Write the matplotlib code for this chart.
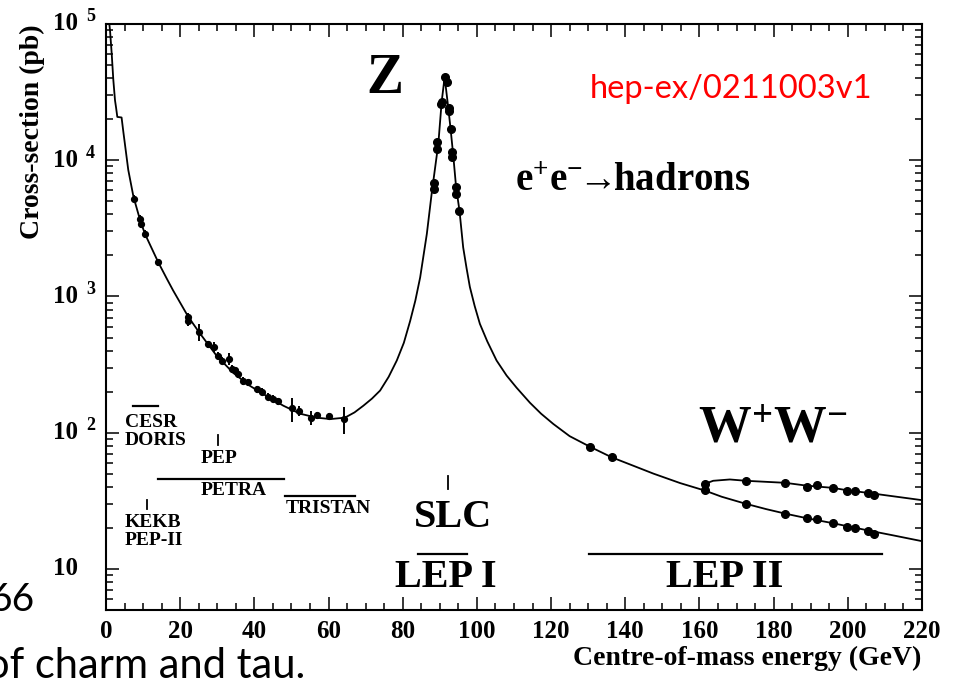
import numpy as np
import matplotlib
matplotlib.use("Agg")
import matplotlib.pyplot as plt
from matplotlib.ticker import MultipleLocator, LogLocator, NullFormatter
from matplotlib.transforms import blended_transform_factory, offset_copy

# ---- data (GeV, pb) ----
curve_E = [0.9, 1.08, 1.53, 1.97, 2.43, 2.7, 3.05, 4.2, 4.67, 6.0, 7.4, 9.2, 10.5,
           14.1, 16.4, 18.1, 22.2, 25.3, 29.8, 34.3, 38.8, 43.3, 47.8, 52.3, 56.8,
           60.5, 64.4, 67.0, 69.4, 71.7, 73.9, 76.2, 78.4, 80.3, 82.0, 83.4, 84.7,
           86.5, 87.8, 89.0, 89.6, 90.5, 91.3, 92.3, 92.9, 93.6, 94.4, 95.3, 96.3,
           97.2, 98.1, 99.4, 100.8, 102.8, 105.3, 108.0, 110.7, 114.3, 117.3,
           120.6, 125.0, 130.5, 136.3, 141.5, 147.6, 154.8, 161.5, 166.0, 172.3,
           178.0, 183.1, 188.9, 195.9, 199.9, 205.4, 212.0, 220.0]
curve_pb = [100000, 90000, 61000, 39000, 27500, 24500, 20800, 20600, 16200, 8500,
            5400, 3630, 2880, 1780, 1350, 1107, 708, 537, 368, 275, 221, 186, 158,
            138, 129, 126, 129, 141, 158, 178, 204, 257, 339, 457, 661, 933, 1380,
            2880, 5690, 10000, 13200, 26900, 40700, 24000, 17000, 11000, 6300,
            4270, 2290, 1620, 1175, 851, 630, 468, 339, 263, 214, 166, 138, 116,
            94.4, 78.9, 66.1, 58.2, 50.1, 42.7, 37.6, 33.9, 30.2, 27.5, 25.5, 23.6,
            21.7, 20.6, 19.2, 17.7, 16.0]

ww_E = [160.8, 161.5, 163.7, 168.2, 172.5, 183.1, 188.9, 195.9, 199.9, 205.4, 220.0]
ww_pb = [38.5, 42.2, 44.4, 45.4, 44.4, 42.9, 40.9, 39.4, 37.8, 36.2, 32.0]

low_E = [7.6, 9.2, 9.4, 10.5, 14.1, 22.2, 22.1, 25.2, 27.6, 29.1, 30.3, 31.2, 33.2,
         33.9, 34.8, 35.7, 37.0, 38.4, 40.6, 42.0, 43.8, 45.1, 46.5, 50.1, 52.1,
         55.2, 56.8, 60.2, 64.3]
low_pb = [5220, 3720, 3390, 2880, 1780, 708, 661, 550, 447, 427, 368, 339, 347,
          295, 288, 269, 240, 234, 209, 200, 184, 178, 170, 151, 145, 129, 135,
          133, 126]
low_err = [0.06, 0.06, 0.06, 0.06, 0.06, 0.06, 0.08, 0.15, 0.06, 0.08, 0.06, 0.06,
           0.10, 0.06, 0.06, 0.06, 0.06, 0.06, 0.06, 0.06, 0.06, 0.06, 0.06, 0.20,
           0.08, 0.12, 0.06, 0.05, 0.22]

lep_E = [88.5, 88.5, 89.3, 89.3, 90.45, 90.5, 91.4, 91.85, 92.5, 92.5, 92.9, 93.4,
         93.4, 94.4, 94.4, 95.3, 130.5, 136.3]
lep_pb = [6760, 6170, 13500, 12000, 25700, 26900, 40700, 37700, 24000, 22900,
          17000, 11500, 10500, 6310, 5620, 4240, 78.9, 66.1]

lep2_E = [161.5, 172.5, 183.1, 188.9, 191.8, 195.9, 199.9, 201.9, 205.4, 207.1]
lep2_had_pb = [37.9, 30.2, 25.5, 23.6, 23.1, 21.7, 20.4, 20.0, 19.0, 18.2]
lep2_ww_pb = [42.4, 44.4, 42.9, 40.3, 41.0, 39.4, 37.5, 37.5, 36.2, 34.8]

# horizontal bars: (label, E_min, E_max, pb)
ranges = [("CESR", 7.35, 13.9, 158), ("PETRA", 14.1, 48.1, 46.1),
          ("TRISTAN", 48.3, 67.1, 34.4), ("LEP I", 84.2, 97.2, 12.8),
          ("LEP II", 130.3, 209.3, 12.8)]
# vertical marks: (label, E, pb_low, pb_high)
points = [("PEP", 30.2, 81, 96), ("KEKB", 11.05, 27.5, 32.1), ("SLC", 92.2, 38.9, 48.3)]

SERIF = "Liberation Serif"
plt.rcParams["mathtext.fontset"] = "custom"
plt.rcParams["mathtext.rm"] = "Liberation Serif:bold"
plt.rcParams["mathtext.bf"] = "Liberation Serif:bold"
plt.rcParams["mathtext.it"] = "Liberation Serif:bold"

fig = plt.figure(figsize=(9.57, 6.87), dpi=100)
ax = fig.add_axes([106 / 957, 1 - 610 / 687, 816 / 957, 586 / 687])

ax.plot(curve_E, curve_pb, color="k", lw=1.3)
ax.plot(ww_E, ww_pb, color="k", lw=1.3)
ax.errorbar(low_E, low_pb, yerr=np.array(low_pb) * np.array(low_err), fmt="o",
            ms=4.2, color="k", elinewidth=1.4, capsize=0)
ax.plot(lep_E, lep_pb, "o", color="k", ms=5.5)
ax.plot(lep2_E, lep2_had_pb, "o", color="k", ms=5.5)
ax.plot(lep2_E, lep2_ww_pb, "o", color="k", ms=5.5)

for name, e0, e1, y in ranges:
    ax.plot([e0, e1], [y, y], color="k", lw=1.6)
for name, e, y0, y1 in points:
    ax.plot([e, e], [y0, y1], color="k", lw=1.3)

ax.set_yscale("log")
ax.set_xlim(0, 220)
ax.set_ylim(5, 1e5)

ax.xaxis.set_major_locator(MultipleLocator(20))
ax.xaxis.set_minor_locator(MultipleLocator(5))
ax.yaxis.set_major_locator(LogLocator(base=10))
ax.yaxis.set_minor_locator(LogLocator(base=10, subs=np.arange(2, 10)))
ax.yaxis.set_major_formatter(NullFormatter())
ax.yaxis.set_minor_formatter(NullFormatter())
ax.tick_params(which="both", direction="in", top=True, right=True, width=1.1)
ax.tick_params(which="major", length=9.5)
ax.tick_params(which="minor", length=5)
ax.tick_params(axis="x", pad=7)
for lab in ax.get_xticklabels():
    lab.set_fontfamily(SERIF)
    lab.set_fontweight("bold")
    lab.set_fontsize(18)
for sp in ax.spines.values():
    sp.set_linewidth(1.5)

# y tick labels written as "10" plus a raised exponent
trans = blended_transform_factory(ax.transAxes, ax.transData)
sup_trans = offset_copy(trans, fig=fig, x=0, y=7, units="dots")
for k in range(1, 6):
    ax.text(-0.0343, 10 ** k, "10", transform=trans, ha="right", va="center",
            family=SERIF, weight="bold", fontsize=18)
    if k > 1:
        ax.text(-0.0245, 10 ** k, str(k), transform=sup_trans, ha="left",
                va="center", family=SERIF, weight="bold", fontsize=13)

fig.text(32 / 957, 1 - 132 / 687, "Cross-section (pb)", rotation=90, ha="center",
         va="center", family=SERIF, weight="bold", fontsize=20)
fig.text(747 / 957, 1 - 658 / 687, "Centre-of-mass energy (GeV)", ha="center",
         va="center", family=SERIF, weight="bold", fontsize=20)

# facility labels
small = dict(family=SERIF, weight="bold", fontsize=14, va="center")
ax.text(5.1, 119, "CESR", ha="left", **small)
ax.text(5.1, 87, "DORIS", ha="left", **small)
ax.text(30.4, 64.6, "PEP", ha="center", **small)
ax.text(34.4, 37.5, "PETRA", ha="center", **small)
ax.text(48.5, 27.8, "TRISTAN", ha="left", **small)
ax.text(5.1, 22.0, "KEKB", ha="left", **small)
ax.text(5.1, 16.1, "PEP-II", ha="left", **small)

big = dict(family=SERIF, weight="bold", fontsize=29, ha="center", va="center")
ax.text(93.6, 23.8, "SLC", **big)
ax.text(91.5, 8.63, "LEP I", **big)
ax.text(166.8, 8.63, "LEP II", **big)

ax.text(75.2, 39800, "Z", family=SERIF, weight="bold", fontsize=40,
        ha="center", va="center")
ax.text(179.8, 109, r"$\mathbf{W^{+}W^{-}}$", fontsize=38, ha="center", va="center")
ax.text(110.3, 7130, r"$\mathbf{e^{+}e^{-}\!\!\rightarrow\!\!hadrons}$", fontsize=28,
        ha="left", va="center")
ax.text(130.5, 33600, "hep-ex/0211003v1", color="red", family="Lato",
        fontsize=23.5, ha="left", va="center")

# slide text cut off at the left edge
fig.text(35 / 957, 1 - 600 / 687, "66", family="Lato", fontsize=28,
         ha="right", va="center")
fig.text(-14 / 957, 9 / 687, "of charm and tau.", family="Lato", fontsize=30,
         ha="left", va="baseline")

fig.savefig("out.png", dpi=100)
